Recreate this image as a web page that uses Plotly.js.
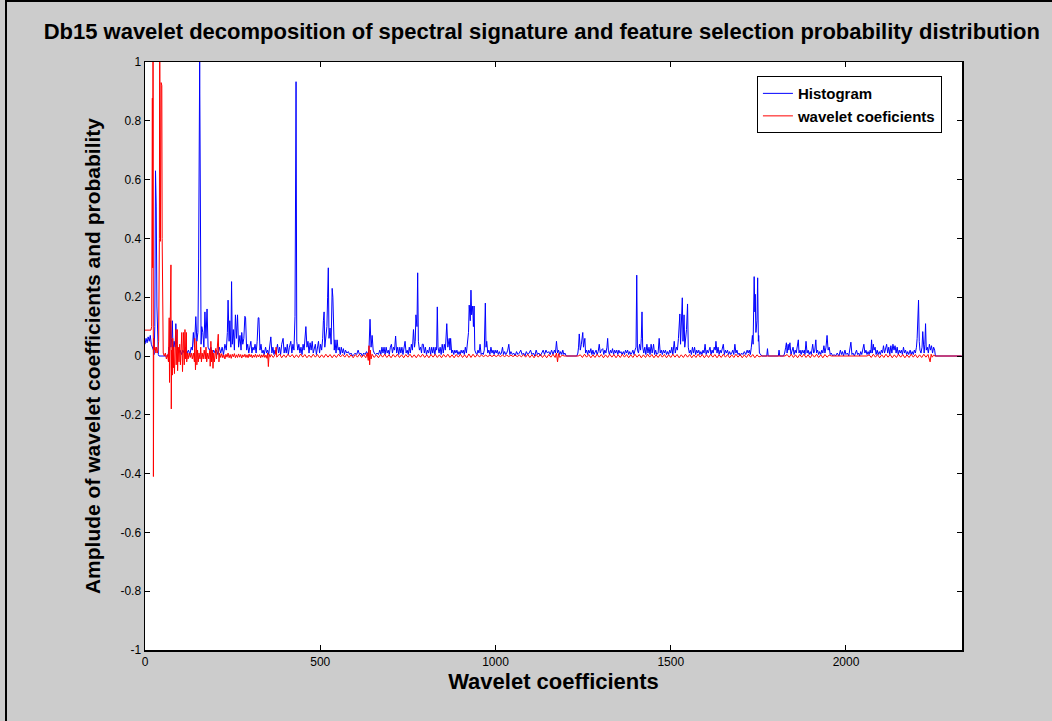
<!DOCTYPE html>
<html><head><meta charset="utf-8">
<script src="https://cdn.plot.ly/plotly-3.0.1.min.js"></script>
<style>
html,body{margin:0;padding:0;background:#cccccc;}
#chart{width:1052px;height:721px;}
#frame{position:absolute;left:5px;top:0;width:1047px;height:721px;border-left:2px solid #000;border-top:2px solid #000;box-sizing:border-box;pointer-events:none;}
</style></head>
<body><div id="chart"></div><div id="frame"></div>
<script>
// Histogram (feature selection probability) : [coefficient index, value]
const histogramPoints = [
[0,0.04],[3,0.06],[6,0.045],[9,0.065],[12,0.05],[15,0.07],[18,0.04],[21,0.03],[24,0.02],[26,0.005],[28,0.1],[30,0.63],[32,0.51],[34,0.17],[36,0.02],[38,0.005],[40,0],[66,0],[68,0.03],[70,0.02],[72,0.12],[74,0.03],[76,0.06],[78,0.12],[80,0.02],[83,0.05],[86,0.03],[88,0.11],[90,0.04],[93,0.02],[96,0.01],
[100,0.02],[104,0.005],[108,0.02],[112,0.01],[116,0.03],[120,0.01],[124,0.02],[128,0.005],[132,0.03],[135,0.02],[138,0.08],[141,0.03],[145,0.134],[148,0.05],[151,0.08],[153,0.33],[156,1.0],[158,0.2],[160,0.04],[162,0.1],[165,0.08],[168,0.03],[171,0.15],[174,0.06],[177,0.16],[180,0.03],[184,0.02],[188,0.03],[192,0.005],[196,0.02],
[200,0.01],[204,0.02],[208,0.005],[212,0.03],[216,0.01],[220,0.03],[224,0.005],[228,0.04],[232,0.02],[235,0.08],[237,0.19],[240,0.05],[242,0.12],[245,0.03],[247,0.253],[249,0.04],[252,0.09],[255,0.02],[258,0.14],[261,0.06],[264,0.14],[267,0.03],[271,0.07],[274,0.02],[276,0.08],[279,0.04],[282,0.06],[285,0.135],[287,0.13],[290,0.02],[293,0.04],[296,0.01],[299,0.03],
[302,0.05],[305,0.01],[308,0.03],[311,0.02],[314,0.04],[317,0.01],[320,0.05],[323,0.13],[325,0.13],[328,0.02],[331,0.04],[334,0.01],[337,0.02],[340,0.005],[344,0.03],[347,0.01],[350,0.02],[353,0.005],[356,0.03],[359,0.065],[362,0.01],[365,0.03],[368,0.005],[371,0.02],[374,0.01],[378,0.04],[381,0.01],[384,0.03],[387,0.005],[390,0.04],[394,0.06],[397,0.01],
[400,0.03],[403,0.01],[406,0.04],[409,0.005],[412,0.03],[416,0.05],[419,0.01],[422,0.04],[425,0.02],[428,0.135],[431,0.933],[433,0.05],[436,0.02],[439,0.04],[442,0.01],[445,0.03],[448,0.005],[451,0.04],[454,0.02],[457,0.06],[459,0.1],[462,0.03],[465,0.05],[468,0.01],[471,0.045],[474,0.02],[477,0.05],[480,0.01],[483,0.03],[486,0.04],[489,0.005],[492,0.03],[495,0.05],[498,0.01],
[501,0.04],[504,0.02],[507,0.06],[509,0.12],[511,0.15],[513,0.03],[516,0.07],[519,0.1],[521,0.2],[523,0.3],[525,0.06],[528,0.095],[531,0.04],[534,0.23],[536,0.2],[538,0.04],[540,0.02],[542,0.055],[545,0.01],[548,0.055],[551,0.02],[554,0.03],[557,0.005],[560,0.03],[563,0.01],[566,0.025],[569,0.005],[572,0.02],[576,0.01],[580,0.015],[584,0.005],[588,0.01],[592,0],[596,0.005],
[600,0.01],[604,0.005],[608,0.02],[612,0.005],[616,0.01],[620,0],[624,0.01],[628,0.005],[632,0.015],[636,0.005],[639,0.02],[642,0.125],[645,0.03],[648,0.07],[651,0.02],[654,0.01],[658,0.005],[662,0.01],[666,0.005],[670,0.02],[673,0.005],[676,0.03],[679,0.01],[682,0.03],[685,0.005],[688,0.03],[691,0.01],[694,0.02],[697,0.005],
[700,0.03],[703,0.04],[706,0.01],[709,0.03],[712,0.02],[715,0.068],[718,0.01],[721,0.03],[724,0.005],[727,0.03],[730,0.01],[733,0.03],[736,0.005],[739,0.03],[742,0.05],[745,0.01],[748,0.02],[751,0.005],[754,0.03],[757,0.01],[760,0.04],[763,0.02],[766,0.09],[769,0.03],[771,0.05],[773,0.14],[776,0.1],[778,0.283],[780,0.05],[783,0.02],[786,0.03],[789,0.01],[791,0.04],[794,0.04],[797,0.01],
[800,0.03],[803,0.005],[806,0.02],[809,0.01],[812,0.03],[815,0.005],[818,0.03],[821,0.01],[824,0.03],[827,0.005],[830,0.03],[832,0.02],[834,0.167],[836,0.03],[839,0.01],[842,0.03],[845,0.005],[848,0.04],[851,0.01],[854,0.04],[857,0.02],[861,0.11],[864,0.03],[868,0.06],[870,0.02],[872,0.06],[875,0.01],[878,0.02],[881,0.005],[884,0.02],[887,0.01],[890,0.02],[893,0.005],[896,0.015],[899,0.005],
[902,0.02],[905,0.01],[908,0.02],[911,0.005],[914,0.03],[917,0.01],[920,0.04],[923,0.08],[925,0.173],[928,0.12],[930,0.224],[932,0.14],[935,0.17],[937,0.1],[939,0.17],[941,0.02],[944,0.01],[947,0.005],[950,0.02],[953,0.01],[956,0.04],[959,0.005],[962,0.01],[965,0.005],[968,0.02],[971,0.18],[973,0.03],[975,0.05],[978,0.01],[981,0.02],[984,0.005],[987,0.03],[990,0.01],[993,0.02],[996,0.005],[999,0.02],
[1002,0.01],[1005,0.02],[1008,0.005],[1011,0.015],[1014,0.005],[1017,0.01],[1020,0.03],[1023,0.005],[1026,0.015],[1029,0.005],[1032,0.01],[1035,0.02],[1038,0.04],[1041,0.005],[1044,0.015],[1048,0.005],[1052,0.01],[1056,0],[1060,0.015],[1064,0.005],[1068,0.01],[1072,0.02],[1076,0.005],[1080,0.01],[1084,0],[1088,0.015],[1092,0.005],[1096,0.01],
[1100,0.02],[1104,0.005],[1108,0.01],[1112,0],[1116,0.02],[1120,0.005],[1124,0.01],[1128,0],[1132,0.01],[1136,0.02],[1140,0.005],[1144,0.02],[1148,0.01],[1152,0.015],[1156,0.005],[1160,0.02],[1164,0.005],[1168,0.02],[1171,0.01],[1174,0.05],[1177,0.01],[1180,0.02],[1183,0.005],[1186,0.015],[1189,0.005],[1192,0.02],[1195,0.005],[1198,0.01],[1202,0],[1232,0],
[1235,0.01],[1237,0.03],[1239,0.075],[1242,0.02],[1245,0.04],[1247,0.06],[1249,0.08],[1251,0.03],[1253,0.04],[1255,0.06],[1257,0.01],[1260,0.02],[1263,0.005],[1266,0.02],[1269,0.01],[1272,0.025],[1275,0.005],[1278,0.02],[1281,0.005],[1284,0.015],[1287,0.02],[1290,0.005],[1293,0.015],[1296,0.04],[1299,0.01],
[1302,0.02],[1306,0.025],[1309,0.005],[1312,0.02],[1315,0.01],[1318,0.03],[1320,0.06],[1322,0.02],[1325,0.005],[1328,0.02],[1331,0.01],[1334,0.025],[1337,0.005],[1340,0.02],[1343,0.01],[1346,0.02],[1349,0.005],[1352,0.02],[1355,0.01],[1358,0.015],[1361,0.005],[1365,0.015],[1368,0.005],[1371,0.02],[1374,0.01],[1377,0.02],[1380,0.005],[1383,0.015],[1386,0.005],[1389,0.01],[1392,0.02],[1395,0.005],[1398,0.02],
[1401,0.03],[1403,0.275],[1405,0.02],[1408,0.01],[1411,0.04],[1414,0.02],[1416,0.06],[1418,0.15],[1420,0.03],[1423,0.01],[1426,0.03],[1429,0.005],[1432,0.04],[1435,0.01],[1438,0.03],[1441,0.005],[1444,0.04],[1447,0.01],[1451,0.04],[1454,0.005],[1457,0.02],[1460,0.005],[1464,0.01],[1467,0.06],[1470,0.01],[1473,0.02],[1476,0.005],[1479,0.02],[1482,0.01],[1485,0.02],[1488,0.005],[1491,0.015],[1494,0.005],[1497,0.02],
[1500,0.01],[1503,0.03],[1506,0.005],[1510,0.05],[1513,0.01],[1516,0.03],[1519,0.02],[1522,0.06],[1524,0.1],[1526,0.143],[1528,0.04],[1531,0.11],[1533,0.198],[1535,0.05],[1538,0.14],[1540,0.03],[1543,0.06],[1545,0.09],[1548,0.177],[1550,0.03],[1553,0.01],[1556,0.02],[1559,0.005],[1562,0.03],[1565,0.01],[1568,0.03],[1571,0.005],[1574,0.02],[1577,0.01],[1580,0.02],[1583,0.005],[1586,0.015],[1589,0.005],[1592,0.02],[1595,0.01],[1598,0.04],
[1601,0.005],[1604,0.02],[1607,0.01],[1610,0.02],[1612,0.03],[1615,0.005],[1618,0.02],[1621,0.01],[1624,0.03],[1627,0.02],[1629,0.05],[1632,0.01],[1635,0.03],[1638,0.005],[1641,0.02],[1644,0.01],[1647,0.03],[1650,0.04],[1653,0.005],[1656,0.02],[1659,0.01],[1662,0.02],[1665,0.005],[1668,0.015],[1671,0.005],[1674,0.01],[1677,0.02],[1680,0.005],[1683,0.04],[1686,0.01],[1689,0.02],[1692,0.005],[1695,0.01],[1698,0],
[1702,0.01],[1706,0.005],[1710,0.015],[1714,0.005],[1718,0.02],[1721,0.01],[1724,0.02],[1727,0.005],[1730,0.03],[1733,0.07],[1735,0.04],[1738,0.27],[1740,0.15],[1741,0.21],[1743,0.08],[1746,0.12],[1748,0.266],[1750,0.05],[1751,0.07],[1753,0.01],[1756,0.005],[1760,0],[1774,0],[1776,0.025],[1778,0],[1807,0],[1809,0.02],[1811,0],[1822,0],
[1825,0.01],[1828,0.03],[1830,0.045],[1832,0.01],[1835,0.04],[1837,0.02],[1840,0.045],[1843,0.005],[1846,0.02],[1849,0.03],[1852,0.005],[1855,0.02],[1858,0.01],[1861,0.03],[1864,0.055],[1866,0.01],[1869,0.02],[1872,0.005],[1875,0.02],[1878,0.01],[1881,0.02],[1883,0.005],[1886,0.05],[1889,0.01],[1892,0.02],[1895,0.005],[1898,0.015],
[1901,0.005],[1905,0.04],[1908,0.01],[1911,0.02],[1914,0.055],[1916,0.01],[1919,0.02],[1922,0.005],[1925,0.015],[1928,0.005],[1931,0.02],[1934,0.01],[1937,0.035],[1940,0.01],[1943,0.03],[1946,0.07],[1949,0.02],[1952,0.03],[1955,0.005],[1958,0.01],[1962,0],[1966,0.005],[1970,0],[1975,0.01],[1980,0],[1984,0.02],[1987,0.005],[1990,0.015],[1993,0],[1997,0.02],
[2000,0.005],[2004,0.01],[2008,0],[2011,0.02],[2014,0.047],[2017,0.005],[2020,0.01],[2024,0],[2027,0.01],[2030,0.02],[2033,0.005],[2036,0.01],[2039,0],[2042,0.015],[2045,0.005],[2048,0.02],[2051,0.04],[2054,0.01],[2057,0.02],[2060,0.005],[2063,0.015],[2066,0.005],[2069,0.02],[2071,0.01],[2073,0.055],[2075,0.01],[2078,0.04],[2080,0.02],[2083,0.03],[2086,0.005],[2089,0.02],[2092,0.005],[2095,0.015],[2098,0.005],
[2101,0.02],[2104,0.01],[2107,0.035],[2110,0.01],[2113,0.03],[2116,0.04],[2119,0.01],[2122,0.03],[2125,0.005],[2128,0.035],[2131,0.01],[2134,0.04],[2137,0.02],[2140,0.035],[2143,0.01],[2146,0.03],[2149,0.005],[2152,0.02],[2155,0.01],[2158,0.02],[2161,0.005],[2164,0.03],[2167,0.01],[2170,0.02],[2173,0.005],[2176,0.015],[2179,0.005],[2183,0.02],[2186,0.005],[2189,0.015],[2192,0.005],[2195,0.02],[2198,0.01],
[2201,0.03],[2203,0.06],[2205,0.12],[2207,0.19],[2209,0.05],[2211,0.02],[2214,0.01],[2217,0.03],[2219,0.083],[2221,0.02],[2223,0.01],[2225,0.04],[2227,0.11],[2229,0.02],[2232,0.03],[2235,0.01],[2238,0.04],[2241,0.02],[2244,0.035],[2247,0.01],[2250,0.03],[2253,0.02],[2255,0],[2330,0]
];

// Wavelet coefficients : [coefficient index, value]
const waveletPoints = [
[0,0.088],[17,0.088],[19,0.1],[20,0.5],[21,0.877],[22,0.3],[23,1.3],[24,-0.41],[25,0.06],[27,0.02],[29,0.03],[31,0.01],[33,0.03],[35,0.01],[37,0.02],[39,0.05],[41,0.4],[42,1.15],[44,0.39],[46,0.93],[48,0.92],[49,0.4],[50,0.09],[52,0.01],[55,0],[58,0.01],[61,-0.01],[64,0.005],[67,-0.02],[69,0.13],[70,-0.09],[72,0.05],[74,0.31],[75,-0.18],[76,0.02],[78,-0.065],[79,0.06],[81,-0.04],[82,0.03],[84,-0.06],[86,0.02],[88,0.09],[89,-0.03],[90,0.05],[92,0.09],[93,-0.05],[95,0.03],[97,-0.02],[99,0.04],
[101,-0.03],[103,0.02],[105,0.08],[107,-0.053],[108,0.02],[110,0.08],[112,-0.03],[114,0.09],[116,-0.01],[118,0.08],[119,-0.02],[121,0.01],[123,-0.01],[126,0.01],[129,-0.005],[132,0.01],[135,-0.01],[138,0.01],[141,-0.02],[142,0.06],[144,-0.047],[145,0.03],[147,0.05],[148,-0.03],[150,0.02],[152,-0.02],[154,0.01],[157,-0.01],[159,0.03],[161,-0.02],[163,0.01],[166,-0.01],[169,0.02],[172,-0.01],[174,0.03],[176,-0.02],[179,0.01],[182,-0.01],[185,0.02],[186,-0.035],[188,0.05],[190,-0.02],[192,0.02],[194,-0.042],[196,0.01],[198,-0.02],
[200,0.02],[202,0.026],[204,-0.01],[206,0.02],[209,0.074],[211,-0.02],[213,0.01],[216,-0.005],[219,0.008],[222,-0.006],[225,0.004],[228,-0.01],[231,0.006],[234,-0.004],[237,0.01],[240,-0.006],[243,0.005],[246,-0.008],[249,0.006],[252,-0.003],[255,0.008],[258,-0.006],[261,0.004],[264,-0.005],[267,0.007],[270,-0.004],[273,0.005],[276,-0.007],[279,0.004],[282,-0.003],[285,0.006],[288,-0.005],[291,0.004],[294,-0.006],[297,0.007],
[300,-0.003],[303,0.005],[306,-0.006],[309,0.003],[312,-0.004],[315,0.006],[318,-0.005],[321,0.004],[324,-0.003],[327,0.005],[330,-0.006],[333,0.004],[336,-0.004],[339,0.006],[342,-0.005],[345,0.003],[348,-0.008],[350,0.01],[352,-0.036],[354,0.006],[357,-0.004],[360,0.005],[366,-0.005],[372,0.006],[374,0.03],[376,-0.004],[384,0.007],[390,-0.006],[396,0.004],
[402,-0.005],[408,0.006],[414,-0.003],[420,0.005],[426,-0.006],[432,0.004],[438,-0.005],[444,0.007],[450,-0.004],[456,0.005],[462,-0.006],[468,0.003],[474,-0.005],[480,0.006],[486,-0.004],[492,0.005],[498,-0.006],[504,0.004],[510,-0.005],[516,0.006],[522,-0.004],[528,0.005],[534,-0.006],[540,0.004],[546,-0.005],[552,0.006],[558,-0.003],[564,0.005],[570,-0.004],[576,0.006],[582,-0.005],[588,0.004],[594,-0.006],
[600,0.005],[606,-0.004],[612,0.006],[618,-0.005],[624,0.004],[630,-0.006],[634,0.01],[637,-0.015],[639,0.035],[641,-0.03],[643,0.02],[645,-0.01],[648,0.006],[654,-0.005],[660,0.004],[666,-0.006],[672,0.005],[678,-0.004],[684,0.006],[690,-0.005],[696,0.004],
[702,-0.006],[708,0.005],[714,-0.004],[720,0.006],[726,-0.005],[732,0.004],[738,-0.006],[744,0.005],[750,-0.004],[756,0.006],[762,-0.005],[768,0.004],[774,-0.006],[780,0.005],[786,-0.004],[792,0.006],[798,-0.005],
[804,0.004],[810,-0.006],[816,0.005],[822,-0.004],[828,0.006],[834,-0.005],[840,0.004],[846,-0.006],[852,0.005],[858,-0.004],[864,0.006],[870,-0.005],[876,0.004],[882,-0.006],[888,0.005],[894,-0.004],
[900,0.006],[906,-0.005],[912,0.004],[918,-0.006],[924,0.007],[930,-0.005],[936,0.006],[942,-0.004],[948,0.005],[954,-0.003],[960,0.003],[966,-0.002],[972,0.003],[978,-0.002],[984,0.003],[990,-0.002],[996,0.003],
[1002,-0.002],[1008,0.003],[1014,-0.002],[1020,0.003],[1026,-0.002],[1032,0.003],[1038,-0.002],[1044,0.003],[1050,-0.002],[1056,0.003],[1062,-0.002],[1068,0.003],[1074,-0.003],[1080,0.005],[1086,-0.004],[1092,0.006],[1098,-0.005],
[1104,0.004],[1110,-0.006],[1116,0.005],[1122,-0.004],[1128,0.006],[1134,-0.005],[1140,0.004],[1146,-0.006],[1152,0.005],[1158,-0.004],[1164,0.006],[1170,-0.005],[1174,0.01],[1177,-0.02],[1180,0.008],[1184,-0.005],[1190,0.003],[1196,0],[1236,0],
[1242,0.004],[1248,-0.005],[1254,0.006],[1260,-0.004],[1266,0.005],[1272,-0.006],[1278,0.004],[1284,-0.005],[1290,0.006],[1296,-0.004],
[1302,0.005],[1308,-0.006],[1314,0.004],[1320,-0.005],[1326,0.006],[1332,-0.004],[1338,0.005],[1344,-0.006],[1350,0.004],[1356,-0.005],[1362,0.006],[1368,-0.004],[1374,0.005],[1380,-0.006],[1386,0.004],[1392,-0.005],[1398,0.006],
[1404,-0.004],[1410,0.005],[1416,-0.006],[1422,0.004],[1428,-0.005],[1434,0.006],[1440,-0.004],[1446,0.005],[1452,-0.006],[1458,0.004],[1464,-0.005],[1470,0.006],[1476,-0.004],[1482,0.005],[1488,-0.006],[1494,0.004],
[1500,-0.005],[1506,0.006],[1512,-0.004],[1518,0.005],[1524,-0.006],[1530,0.004],[1536,-0.005],[1542,0.006],[1548,-0.004],[1554,0.005],[1560,-0.006],[1566,0.004],[1572,-0.005],[1578,0.006],[1584,-0.004],[1590,0.005],[1596,-0.006],
[1602,0.004],[1608,-0.005],[1614,0.006],[1620,-0.004],[1626,0.005],[1632,-0.006],[1638,0.004],[1644,-0.005],[1650,0.006],[1656,-0.004],[1662,0.005],[1668,-0.006],[1674,0.004],[1680,-0.005],[1686,0.006],[1692,-0.004],[1698,0.005],
[1704,-0.006],[1710,0.004],[1716,-0.005],[1722,0.006],[1728,-0.004],[1734,0.005],[1740,-0.006],[1746,0.004],[1752,-0.003],[1758,0],[1826,0],[1832,0.005],[1838,-0.004],[1844,0.006],[1850,-0.005],[1856,0.004],[1862,-0.006],[1868,0.005],[1874,-0.004],[1880,0.006],[1886,-0.005],[1892,0.004],[1898,-0.006],
[1904,0.005],[1910,-0.004],[1916,0.006],[1922,-0.005],[1928,0.004],[1934,-0.006],[1940,0.005],[1946,-0.004],[1952,0.003],[1958,0],[2060,0],[2066,0.004],[2072,-0.005],[2078,0.006],[2084,-0.004],[2090,0.005],[2096,-0.006],
[2102,0.004],[2108,-0.005],[2114,0.006],[2120,-0.004],[2126,0.005],[2132,-0.006],[2138,0.004],[2144,-0.005],[2150,0.006],[2156,-0.004],[2162,0.005],[2168,-0.006],[2174,0.004],[2180,-0.005],[2186,0.006],[2192,-0.004],[2198,0.005],
[2204,-0.006],[2210,0.004],[2216,-0.005],[2222,0.006],[2228,-0.004],[2234,0.005],[2237,-0.006],[2240,-0.02],[2243,0.006],[2246,-0.004],[2250,0.003],[2254,0],[2330,0]
];

const seriesNames = ['Histogram', 'wavelet coeficients'];
const xTickValues = [0, 500, 1000, 1500, 2000];
const xTickLabels = ['0', '500', '1000', '1500', '2000'];
const yTickValues = [-1, -0.8, -0.6, -0.4, -0.2, 0, 0.2, 0.4, 0.6, 0.8, 1];
const yTickLabels = ['-1', '-0.8', '-0.6', '-0.4', '-0.2', '0', '0.2', '0.4', '0.6', '0.8', '1'];

const FONT = 'Liberation Sans, Arial, Helvetica, sans-serif';

const traces = [
  {
    type: 'scatter', mode: 'lines', name: seriesNames[0],
    x: histogramPoints.map(p => p[0]), y: histogramPoints.map(p => p[1]),
    line: {color: '#0000ff', width: 1}
  },
  {
    type: 'scatter', mode: 'lines', name: seriesNames[1],
    x: waveletPoints.map(p => p[0]), y: waveletPoints.map(p => p[1]),
    line: {color: '#ff0000', width: 1}
  }
];

const axisCommon = {
  showgrid: false, zeroline: false, showline: true, linecolor: '#000', linewidth: 1.5,
  mirror: 'ticks', ticks: 'inside', ticklen: 5, tickcolor: '#000', tickwidth: 1,
  tickfont: {family: FONT, size: 12, color: '#000'}
};

const layout = {
  width: 1052, height: 721,
  paper_bgcolor: '#cccccc', plot_bgcolor: '#ffffff',
  margin: {l: 145, r: 90, t: 62, b: 71},
  showlegend: true,
  title: {
    text: 'Db15 wavelet decomposition of spectral signature and feature selection probability distribution',
    font: {family: FONT, size: 22, color: '#000', weight: 'bold'},
    xref: 'container', x: 0.515, xanchor: 'center',
    yref: 'container', y: 0.957, yanchor: 'middle'
  },
  xaxis: Object.assign({}, axisCommon, {
    range: [0, 2331], tickmode: 'array', tickvals: xTickValues, ticktext: xTickLabels,
    title: {text: 'Wavelet coefficients', font: {family: FONT, size: 22, color: '#000', weight: 'bold'}, standoff: 4}
  }),
  yaxis: Object.assign({}, axisCommon, {
    range: [-1, 1], tickmode: 'array', tickvals: yTickValues, ticktext: yTickLabels,
    title: {text: 'Amplude of wavelet coefficients and probability', font: {family: FONT, size: 21, color: '#000', weight: 'bold'}, standoff: 14}
  }),
  legend: {
    x: 0.749, y: 0.976, xanchor: 'left', yanchor: 'top',
    bgcolor: '#ffffff', bordercolor: '#000', borderwidth: 1,
    font: {family: FONT, size: 15, color: '#000', weight: 'bold'},
    itemwidth: 30, tracegroupgap: 0
  }
};

Plotly.newPlot('chart', traces, layout, {displayModeBar: false, staticPlot: true});
</script>
</body></html>
